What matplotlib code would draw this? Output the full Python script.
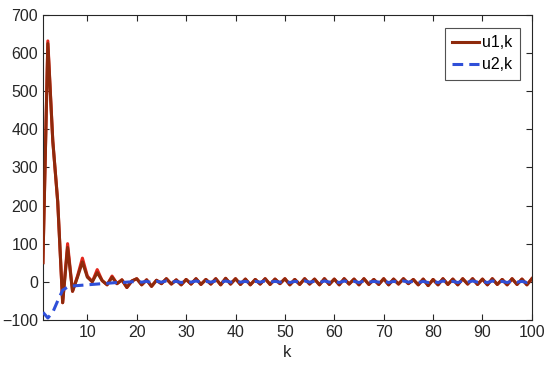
import matplotlib
matplotlib.use("Agg")
import matplotlib.pyplot as plt
import numpy as np

plt.rcParams['font.family'] = ['Liberation Sans', 'DejaVu Sans']

k = list(range(1, 101))

u1 = [50, 625, 370, 210, -55, 90, -25, 12, 52, 12, 0, 24, 3, -8, 12, -5, 5, -15, 2, 8,
      -8, 5, -12, 4, -5, 8, -6, 5, -8, 6, -6, 8, -7, 6, -6, 8, -8, 9, -6, 8,
      -7, 7, -8, 6, -6, 8, -7, 7, -5, 8, -8, 6, -7, 8, -6, 7, -8, 8, -7, 7,
      -8, 8, -6, 7, -8, 8, -7, 6, -7, 8, -8, 7, -6, 8, -5, 6, -8, 7, -10, 6,
      -8, 8, -7, 7, -8, 8, -6, 8, -7, 7, -8, 8, -7, 6, -8, 8, -7, 7, -8, 8]

u1_red = [50, 632, 370, 210, -55, 100, -25, 15, 62, 15, 0, 32, 3, -8, 15, -5, 5, -15, 2, 8,
          -8, 5, -12, 4, -5, 8, -6, 5, -8, 6, -6, 8, -7, 6, -6, 8, -8, 9, -6, 8,
          -7, 7, -8, 6, -6, 8, -7, 7, -5, 8, -8, 6, -7, 8, -6, 7, -8, 8, -7, 7,
          -8, 8, -6, 7, -8, 8, -7, 6, -7, 8, -8, 7, -6, 8, -5, 6, -8, 7, -10, 6,
          -8, 8, -7, 7, -8, 8, -6, 8, -7, 7, -8, 8, -7, 6, -8, 8, -7, 7, -8, 8]

u2 = [-80, -95, -80, -50, -22, -14, -11, -10, -9, -8, -7, -6, -5, -4, -3, -2, -2, -1, 0, 1,
      -1, 1, -2, 1, -1, 2, -1, 1, -2, 1, -1, 2, -1, 1, -1, 2, -2, 2, -1, 2,
      -1, 1, -2, 1, -1, 2, -1, 1, -1, 2, -2, 1, -1, 2, -1, 1, -2, 2, -1, 1,
      -2, 2, -1, 1, -2, 2, -1, 1, -1, 2, -2, 1, -1, 2, -1, 1, -2, 1, -2, 1,
      -2, 2, -1, 1, -2, 2, -1, 2, -1, 1, -2, 2, -1, 1, -2, 2, -1, 1, -2, 2]

fig = plt.figure(figsize=(5.5, 3.75), dpi=100)
ax = fig.add_axes([0.078, 0.147, 0.889, 0.813])

ax.plot(k, u1_red, color='#E3261C', linewidth=2.2, zorder=2)
ax.plot(k, u1, color='#8E2A0C', linewidth=2.2, label='u1,k', zorder=3)
ax.plot(k, u2, color='#2F4FD8', linewidth=2.2, linestyle=(0, (3.5, 2)), label='u2,k', zorder=4)

ax.set_xlim(1, 100)
ax.set_ylim(-100, 700)
ax.set_xticks(range(10, 101, 10))
ax.set_yticks(range(-100, 701, 100))
ax.set_xlabel('k', fontsize=12, color='#262626')

edge = '#262626'
for s in ax.spines.values():
    s.set_color(edge)
    s.set_linewidth(0.8)
ax.tick_params(direction='in', top=True, right=True, length=4, width=0.8,
               colors=edge, labelsize=11.5, labelcolor='#262626')

leg = ax.legend(loc='upper right', fontsize=11.5, frameon=True, fancybox=False,
                edgecolor='#262626', bbox_to_anchor=(0.975, 0.957),
                borderaxespad=0.0, handlelength=1.7,
                handletextpad=0.2, borderpad=0.45, labelspacing=0.45)
leg.get_frame().set_linewidth(0.8)

fig.savefig('out.png', dpi=100)
